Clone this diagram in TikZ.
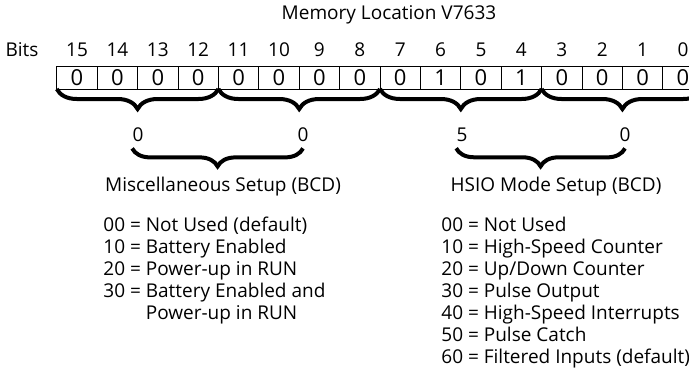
\documentclass[tikz,border=0pt]{standalone}
\usepackage{fontspec}
\setmainfont{Open Sans}
\usetikzlibrary{positioning,calc,decorations.pathreplacing}

\begin{document}
\begin{tikzpicture}[
    x=0.5pt, y=-0.5pt,
    font=\fontsize{9.5}{11}\selectfont,
    cell/.style={draw, line width=0.5pt, minimum width=20.2pt, minimum height=11.5pt, inner sep=0pt, outer sep=0pt, font=\fontsize{11}{12}\selectfont},
    bitnum/.style={inner sep=0pt},
    digit/.style={inner sep=0pt},
    brace/.style={decorate, decoration={brace, mirror, amplitude=10pt}, line width=2pt},
    bigbrace/.style={decorate, decoration={brace, mirror, amplitude=9pt}, line width=2pt},
    list/.style={align=left, anchor=north west, inner sep=0pt}
]
\useasboundingbox (0,0) rectangle (689,370);

% Title and bit label
\node[inner sep=0pt] (title) at (389,15) {Memory Location V7633};
\node[inner sep=0pt] (bits) at (22,50) {Bits};

% Register cells, bit 15 on the left
\node[cell] (c15) at (77,77.5) {0};
\node[cell, right=0pt of c15] (c14) {0};
\node[cell, right=0pt of c14] (c13) {0};
\node[cell, right=0pt of c13] (c12) {0};
\node[cell, right=0pt of c12] (c11) {0};
\node[cell, right=0pt of c11] (c10) {0};
\node[cell, right=0pt of c10] (c9) {0};
\node[cell, right=0pt of c9] (c8) {0};
\node[cell, right=0pt of c8] (c7) {0};
\node[cell, right=0pt of c7] (c6) {1};
\node[cell, right=0pt of c6] (c5) {0};
\node[cell, right=0pt of c5] (c4) {1};
\node[cell, right=0pt of c4] (c3) {0};
\node[cell, right=0pt of c3] (c2) {0};
\node[cell, right=0pt of c2] (c1) {0};
\node[cell, right=0pt of c1] (c0) {0};

% Bit numbers
\node[bitnum, above=4.5pt of c15] (b15) {15};
\node[bitnum, above=4.5pt of c14] (b14) {14};
\node[bitnum, above=4.5pt of c13] (b13) {13};
\node[bitnum, above=4.5pt of c12] (b12) {12};
\node[bitnum, above=4.5pt of c11] (b11) {11};
\node[bitnum, above=4.5pt of c10] (b10) {10};
\node[bitnum, above=4.5pt of c9] (b9) {9};
\node[bitnum, above=4.5pt of c8] (b8) {8};
\node[bitnum, above=4.5pt of c7] (b7) {7};
\node[bitnum, above=4.5pt of c6] (b6) {6};
\node[bitnum, above=4.5pt of c5] (b5) {5};
\node[bitnum, above=4.5pt of c4] (b4) {4};
\node[bitnum, above=4.5pt of c3] (b3) {3};
\node[bitnum, above=4.5pt of c2] (b2) {2};
\node[bitnum, above=4.5pt of c1] (b1) {1};
\node[bitnum, above=4.5pt of c0] (b0) {0};

% Nibble braces
\draw[brace] (c15.south west) -- (c12.south east);
\draw[brace] (c11.south west) -- (c8.south east);
\draw[brace] (c7.south west) -- (c4.south east);
\draw[brace] (c3.south west) -- (c0.south east);

% BCD digits
\node[digit] (d3) at (138,135) {0};
\node[digit] (d2) at (303,135) {0};
\node[digit] (d1) at (462,135) {5};
\node[digit] (d0) at (625,135) {0};

% Byte braces
\draw[bigbrace] ([yshift=-3pt]d3.south west) -- ([yshift=-3pt]d2.south);
\draw[bigbrace] ([yshift=-3pt]d1.south west) -- ([yshift=-3pt]d0.south);

% Setup labels
\node[inner sep=0pt] (misc) at (223,187) {Miscellaneous Setup (BCD)};
\node[inner sep=0pt] (hsio) at (556,187) {HSIO Mode Setup (BCD)};

% Value lists
\node[list] (misclist) at (103,217) {00 = Not Used (default)\\
10 = Battery Enabled\\
20 = Power-up in RUN\\
30 = Battery Enabled and\\
\hphantom{30 = }Power-up in RUN};
\node[list] (hsiolist) at (441,217) {00 = Not Used\\
10 = High-Speed Counter\\
20 = Up/Down Counter\\
30 = Pulse Output\\
40 = High-Speed Interrupts\\
50 = Pulse Catch\\
60 = Filtered Inputs (default)};

\end{tikzpicture}
\end{document}
